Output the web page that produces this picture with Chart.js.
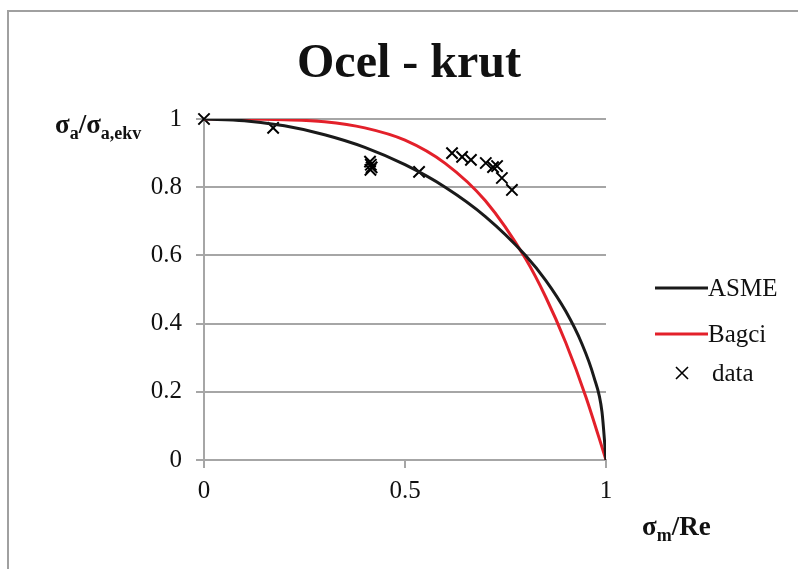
<!DOCTYPE html>
<html>
<head>
<meta charset="utf-8">
<script src="https://cdn.jsdelivr.net/npm/chart.js@4"></script>
<style>
  html, body { margin: 0; padding: 0; background: #fff; }
  #wrap { width: 798px; height: 569px; position: relative; }
</style>
</head>
<body>
<div id="wrap"><canvas id="myChart" width="798" height="569"></canvas></div>
<script>
// krivky ASME a Bagci (odečtené body) + naměřená data
const asmeX = [0, 0.1, 0.2, 0.3, 0.4, 0.5, 0.6, 0.7, 0.8, 0.85, 0.9, 0.94, 0.97, 0.99, 1]
const asmeY = [1, 0.995, 0.98, 0.954, 0.917, 0.866, 0.8, 0.714, 0.6, 0.527, 0.436, 0.341, 0.243, 0.141, 0]
const bagciX = [0, 0.1, 0.2, 0.3, 0.4, 0.5, 0.6, 0.7, 0.8, 0.85, 0.9, 0.95, 1]
const bagciY = [1, 1, 0.998, 0.992, 0.974, 0.938, 0.87, 0.76, 0.59, 0.478, 0.344, 0.185, 0]
const dataX = [0, 0.172, 0.413, 0.415, 0.417, 0.414, 0.535, 0.617, 0.642, 0.664, 0.701, 0.719, 0.729, 0.741, 0.766]
const dataY = [1, 0.974, 0.875, 0.866, 0.858, 0.851, 0.845, 0.9, 0.889, 0.88, 0.871, 0.859, 0.862, 0.827, 0.792]
const xTicks = [0, 0.5, 1]
const yTicks = [0, 0.2, 0.4, 0.6, 0.8, 1]

const toPts = (xs, ys) => xs.map((x, i) => ({ x: x, y: ys[i] }))
const serif = '"Liberation Serif", "Times New Roman", serif'
const gridGray = '#a6a6a6'
const ink = '#111'

// rámeček, nadpis, popisky os a legenda
const decor = {
  id: 'decor',
  afterDraw(chart) {
    const c = chart.ctx
    c.save()
    c.strokeStyle = '#a0a0a0'
    c.lineWidth = 2
    c.strokeRect(8, 11, 900, 900)

    c.fillStyle = ink
    c.textBaseline = 'alphabetic'
    c.textAlign = 'center'
    c.font = 'bold 48px ' + serif
    c.fillText('Ocel - krut', 409, 77)

    // σa/σa,ekv
    c.textAlign = 'left'
    let x = 55
    const part = (t, size, dy) => {
      c.font = 'bold ' + size + 'px ' + serif
      c.fillText(t, x, dy)
      x += c.measureText(t).width
    }
    part('σ', 27, 133)
    part('a', 18, 139)
    part('/σ', 27, 133)
    part('a,ekv', 18, 139)

    // σm/Re
    x = 642
    part('σ', 27, 535)
    part('m', 18, 541)
    part('/Re', 27, 535)

    // legenda
    const ds = chart.data.datasets
    const rows = [288, 334, 373]
    c.font = '25px ' + serif
    for (let i = 0; i < 3; i++) {
      const y = rows[i]
      if (i < 2) {
        c.strokeStyle = ds[i].borderColor
        c.lineWidth = 3
        c.beginPath()
        c.moveTo(655, y)
        c.lineTo(708, y)
        c.stroke()
      } else {
        c.strokeStyle = '#000'
        c.lineWidth = 1.6
        c.beginPath()
        c.moveTo(676, y - 6); c.lineTo(688, y + 6)
        c.moveTo(688, y - 6); c.lineTo(676, y + 6)
        c.stroke()
      }
      c.fillStyle = ink
      c.textBaseline = 'middle'
      c.fillText(ds[i].label, i < 2 ? 708 : 712, y + 1)
    }
    c.restore()
  }
}

new Chart(document.getElementById('myChart').getContext('2d'), {
  type: 'scatter',
  data: {
    datasets: [{
      label: 'ASME',
      data: toPts(asmeX, asmeY),
      showLine: true,
      borderColor: '#1a1a1a',
      borderWidth: 3,
      pointRadius: 0,
      cubicInterpolationMode: 'monotone'
    }, {
      label: 'Bagci',
      data: toPts(bagciX, bagciY),
      showLine: true,
      borderColor: '#e3202a',
      borderWidth: 3,
      pointRadius: 0,
      cubicInterpolationMode: 'monotone'
    }, {
      label: 'data',
      data: toPts(dataX, dataY),
      showLine: false,
      clip: false,
      pointStyle: 'crossRot',
      pointRadius: 8,
      borderColor: '#000',
      borderWidth: 2
    }]
  },
  options: {
    responsive: false,
    animation: false,
    layout: { padding: { left: 0, top: 119, right: 192, bottom: 0 } },
    plugins: { legend: { display: false }, tooltip: { enabled: false } },
    scales: {
      x: {
        type: 'linear', min: 0, max: 1,
        afterFit: s => { s.height = 109 },
        afterBuildTicks: s => { s.ticks = xTicks.map(v => ({ value: v })) },
        grid: { drawOnChartArea: false, drawTicks: true, tickLength: 8, color: gridGray, lineWidth: 2 },
        border: { color: gridGray, width: 2 },
        ticks: { color: ink, font: { family: serif, size: 25 }, padding: 8, maxRotation: 0, callback: v => String(v) }
      },
      y: {
        min: 0, max: 1,
        afterFit: s => { s.width = 204 },
        afterBuildTicks: s => { s.ticks = yTicks.map(v => ({ value: v })) },
        grid: { color: gridGray, lineWidth: 2, tickLength: 8 },
        border: { color: gridGray, width: 2 },
        ticks: { color: ink, font: { family: serif, size: 25 }, padding: 14, callback: v => String(v) }
      }
    }
  },
  plugins: [decor]
})
</script>
</body>
</html>
